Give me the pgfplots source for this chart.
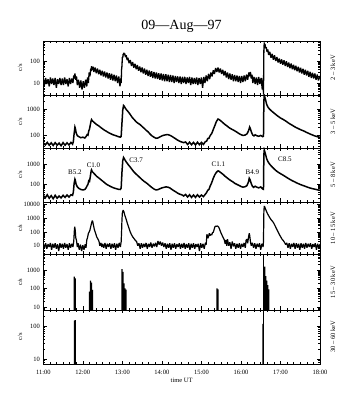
\documentclass[border=0pt]{standalone}
\usepackage{fontspec}
\setmainfont{Liberation Serif}
\usepackage{pgfplots}
\pgfplotsset{compat=1.18}
\pgfplotsset{mypanelstyle/.style={
  scale only axis, width=276.7pt, xmin=11, xmax=18,
  xtick={11,12,13,14,15,16,17,18}, minor x tick num=5, xticklabels={},
  tick align=inside, tick pos=both,
  major tick length=3.5pt, minor tick length=2pt,
  axis line style={line width=0.8pt}, every tick/.style={black,line width=0.55pt},
  tick label style={font=\fontsize{6.5}{7}\selectfont},
  clip mode=individual, anchor=south west,
}}
\newcommand{\cslab}{\node[rotate=90,font=\fontsize{6.5}{7}\selectfont] at (rel axis cs:-0.084,0.5) {c/s};}
\newcommand{\kev}[1]{\node[rotate=90,font=\fontsize{6.5}{7}\selectfont] at (rel axis cs:1.047,0.5) {#1};}
\begin{document}
\begin{tikzpicture}
\useasboundingbox (0,0) rectangle (356pt,395pt);
\node[font=\fontsize{14}{16}\selectfont, anchor=base] at (181.5pt,365pt) {09—Aug—97};
% ---------- panel 1 : 2-3 keV
\begin{axis}[ymode=log, mypanelstyle, at={(43.3pt,300pt)}, height=54pt, ymin=2.85, ymax=811,
  ytick={10,100}, yticklabels={10,100},
  minor ytick={3,4,5,6,7,8,9,20,30,40,50,60,70,80,90,200,300,400,500,600,700,800}]
\addplot[black, line width=1.3pt, line join=bevel] coordinates {
(11.00,16)(11.03,8)(11.06,17)(11.09,9)(11.12,15)(11.15,7)(11.18,18)(11.21,9)(11.24,16)(11.27,8)
(11.30,17)(11.33,6)(11.36,15)(11.39,9)(11.42,17)(11.45,8)(11.48,16)(11.51,8)(11.54,18)(11.57,9)
(11.60,15)(11.63,7)(11.66,17)(11.69,9)(11.72,16)(11.75,10)(11.77,22)(11.79,16)(11.80,27)(11.82,14)
(11.84,20)(11.86,8)(11.89,14)(11.92,6)(11.95,13)(11.98,5)(12.01,12)(12.04,6)(12.07,14)(12.10,7)
(12.12,18)(12.14,10)(12.16,30)(12.18,20)(12.20,45)(12.21,35)(12.22,58)(12.24,38)(12.26,55)(12.28,32)
(12.31,50)(12.34,28)(12.37,45)(12.40,25)(12.43,40)(12.46,22)(12.49,36)(12.52,20)(12.55,33)(12.58,18)
(12.61,30)(12.64,16)(12.67,28)(12.70,14)(12.73,26)(12.76,13)(12.79,24)(12.82,12)(12.85,22)(12.88,10)
(12.91,20)(12.94,7)(12.96,16)(12.97,10)(12.98,40)(12.99,60)(13.00,150)(13.01,140)(13.02,210)(13.03,190)
(13.04,235)(13.05,180)(13.06,220)(13.08,150)(13.10,180)(13.12,110)(13.14,140)(13.17,80)(13.20,110)(13.23,60)
(13.26,90)(13.29,50)(13.32,75)(13.35,42)(13.38,65)(13.41,36)(13.44,56)(13.47,31)(13.50,50)(13.53,27)
(13.56,45)(13.59,24)(13.62,40)(13.65,21)(13.68,37)(13.71,19)(13.74,34)(13.77,17)(13.80,32)(13.83,16)
(13.86,30)(13.89,15)(13.92,28)(13.95,14)(13.98,27)(14.01,13)(14.04,26)(14.07,12)(14.10,25)(14.13,12)
(14.16,24)(14.19,11)(14.22,23)(14.25,11)(14.28,22)(14.31,10)(14.34,21)(14.37,11)(14.40,20)(14.43,10)
(14.46,20)(14.49,9)(14.52,19)(14.55,10)(14.58,19)(14.61,9)(14.64,18)(14.67,10)(14.70,19)(14.73,8)
(14.76,18)(14.79,9)(14.82,17)(14.85,9)(14.88,18)(14.91,8)(14.94,17)(14.97,9)(15.00,18)(15.03,6)
(15.06,19)(15.09,10)(15.12,22)(15.15,12)(15.18,26)(15.21,15)(15.24,30)(15.27,20)(15.30,38)(15.33,26)
(15.36,48)(15.39,32)(15.42,50)(15.45,30)(15.48,45)(15.51,26)(15.54,40)(15.57,22)(15.60,35)(15.63,18)
(15.66,30)(15.69,15)(15.72,27)(15.75,14)(15.78,25)(15.81,12)(15.84,23)(15.87,12)(15.90,22)(15.93,11)
(15.96,21)(15.99,10)(16.02,21)(16.05,11)(16.08,22)(16.11,12)(16.14,24)(16.17,14)(16.20,30)(16.22,20)
(16.24,32)(16.26,16)(16.28,24)(16.30,10)(16.33,19)(16.36,9)(16.39,18)(16.42,8)(16.45,19)(16.48,9)
(16.51,17)(16.54,5)(16.56,16)(16.57,3)(16.58,300)(16.585,450)(16.59,700)(16.60,520)(16.61,580)(16.62,380)
(16.64,430)(16.66,260)(16.68,330)(16.70,190)(16.73,260)(16.76,140)(16.79,210)(16.82,115)(16.85,180)(16.88,100)
(16.91,150)(16.94,85)(16.97,130)(17.00,75)(17.03,118)(17.06,68)(17.09,108)(17.12,60)(17.15,96)(17.18,53)
(17.21,85)(17.24,47)(17.27,76)(17.30,42)(17.33,68)(17.36,38)(17.39,60)(17.42,34)(17.45,54)(17.48,30)
(17.51,49)(17.54,27)(17.57,44)(17.60,24)(17.63,40)(17.66,22)(17.69,36)(17.72,19)(17.75,32)(17.78,17)
(17.81,29)(17.84,16)(17.87,27)(17.90,14)(17.93,24)(17.96,13)(18.00,21)};
\cslab \kev{2 – 3 keV}
\end{axis}
% ---------- panel 2 : 3-5 keV
\begin{axis}[ymode=log, mypanelstyle, at={(43.3pt,247pt)}, height=53pt, ymin=34.6, ymax=3340,
  ytick={100,1000}, yticklabels={100,1000},
  minor ytick={40,50,60,70,80,90,200,300,400,500,600,700,800,900,2000,3000}]
\addplot[black, line width=1.5pt] coordinates {
(11.00,55)(11.05,45)(11.10,56)(11.15,44)(11.20,54)(11.25,43)(11.30,55)(11.35,44)(11.40,53)(11.45,42)
(11.50,55)(11.55,44)(11.60,54)(11.65,45)(11.70,56)(11.74,48)(11.76,60)(11.78,120)(11.80,210)(11.81,190)
(11.83,130)(11.86,100)(11.90,92)(11.95,84)(12.00,88)(12.05,82)(12.08,92)(12.11,110)(12.13,105)(12.15,150)
(12.17,180)(12.19,260)(12.21,360)(12.22,400)(12.24,360)(12.27,330)(12.30,300)(12.35,260)(12.40,235)(12.45,205)
(12.50,180)(12.55,160)(12.60,145)(12.65,130)(12.70,120)(12.75,110)(12.80,104)(12.85,98)(12.90,92)(12.95,88)
(12.97,95)(12.99,300)(13.01,900)(13.03,1350)(13.05,1250)(13.07,1100)(13.10,950)(13.15,780)(13.20,620)(13.25,480)
(13.30,400)(13.35,330)(13.40,290)(13.45,260)(13.50,220)(13.55,190)(13.60,160)(13.65,140)(13.70,115)(13.75,98)
(13.80,88)(13.85,80)(13.90,82)(13.95,90)(14.00,98)(14.05,104)(14.10,108)(14.15,110)(14.20,104)(14.25,95)
(14.30,85)(14.35,76)(14.40,68)(14.45,62)(14.50,58)(14.55,55)(14.60,58)(14.65,47)(14.70,57)(14.75,46)
(14.80,56)(14.85,45)(14.90,57)(14.95,46)(15.00,56)(15.05,47)(15.10,60)(15.13,62)(15.16,78)(15.19,80)
(15.22,100)(15.26,120)(15.30,170)(15.34,240)(15.38,340)(15.42,420)(15.45,400)(15.50,350)(15.55,300)(15.60,260)
(15.65,230)(15.70,200)(15.75,180)(15.80,165)(15.85,150)(15.90,135)(15.95,120)(16.00,110)(16.05,102)(16.10,105)
(16.15,115)(16.19,150)(16.22,210)(16.24,180)(16.27,130)(16.30,105)(16.33,98)(16.36,108)(16.40,100)(16.45,95)
(16.50,102)(16.55,92)(16.57,95)(16.58,2000)(16.59,3200)(16.60,2900)(16.62,2300)(16.65,1500)(16.68,1200)(16.72,1000)
(16.76,880)(16.80,780)(16.85,680)(16.90,590)(16.95,520)(17.00,460)(17.05,420)(17.10,380)(17.15,340)(17.20,300)
(17.25,270)(17.30,245)(17.35,220)(17.40,200)(17.45,185)(17.50,170)(17.55,158)(17.60,148)(17.65,135)(17.70,125)
(17.75,115)(17.80,108)(17.85,100)(17.90,95)(17.95,90)(18.00,88)};
\cslab \kev{3 – 5 keV}
\end{axis}
% ---------- panel 3 : 5-8 keV
\begin{axis}[ymode=log, mypanelstyle, at={(43.3pt,193pt)}, height=54pt, ymin=13, ymax=6530,
  ytick={100,1000}, yticklabels={100,1000},
  minor ytick={20,30,40,50,60,70,80,90,200,300,400,500,600,700,800,900,2000,3000,4000,5000,6000}]
\addplot[black, line width=1.5pt] coordinates {
(11.00,28)(11.05,21)(11.10,30)(11.15,20)(11.20,27)(11.25,19)(11.30,28)(11.35,20)(11.40,26)(11.45,21)
(11.50,28)(11.55,22)(11.60,29)(11.65,23)(11.70,30)(11.74,28)(11.76,40)(11.78,110)(11.80,180)(11.81,160)
(11.83,100)(11.86,75)(11.90,62)(11.95,55)(12.00,52)(12.05,55)(12.08,65)(12.11,85)(12.13,100)(12.15,150)
(12.17,140)(12.19,250)(12.21,450)(12.22,520)(12.24,430)(12.27,370)(12.30,320)(12.35,250)(12.40,210)(12.45,175)
(12.50,145)(12.55,120)(12.60,100)(12.65,88)(12.70,78)(12.75,70)(12.80,64)(12.85,60)(12.90,56)(12.95,55)
(12.97,65)(12.99,400)(13.01,1500)(13.03,2200)(13.05,1900)(13.07,1600)(13.10,1300)(13.15,950)(13.20,720)(13.25,530)
(13.30,400)(13.35,320)(13.40,260)(13.45,210)(13.50,170)(13.55,140)(13.60,120)(13.65,100)(13.70,82)(13.75,68)
(13.80,58)(13.85,52)(13.90,54)(13.95,60)(14.00,66)(14.05,70)(14.10,74)(14.15,72)(14.20,66)(14.25,56)
(14.30,48)(14.35,42)(14.40,36)(14.45,32)(14.50,30)(14.55,26)(14.60,31)(14.65,23)(14.70,30)(14.75,22)
(14.80,29)(14.85,22)(14.90,30)(14.95,23)(15.00,29)(15.05,24)(15.10,32)(15.13,38)(15.16,50)(15.19,55)
(15.22,80)(15.26,120)(15.30,200)(15.34,300)(15.38,400)(15.42,470)(15.45,440)(15.50,370)(15.55,310)(15.60,250)
(15.65,210)(15.70,175)(15.75,150)(15.80,130)(15.85,110)(15.90,98)(15.95,88)(16.00,78)(16.05,72)(16.10,75)
(16.15,85)(16.19,130)(16.21,200)(16.23,170)(16.26,110)(16.29,80)(16.32,70)(16.36,80)(16.40,72)(16.45,66)
(16.50,74)(16.55,58)(16.57,56)(16.58,3000)(16.59,5200)(16.60,4500)(16.62,3300)(16.65,1900)(16.68,1400)(16.72,1050)
(16.76,850)(16.80,700)(16.85,560)(16.90,460)(16.95,390)(17.00,340)(17.05,300)(17.10,260)(17.15,225)(17.20,195)
(17.25,170)(17.30,150)(17.35,135)(17.40,120)(17.45,108)(17.50,98)(17.55,90)(17.60,83)(17.65,76)(17.70,70)
(17.75,65)(17.80,61)(17.85,58)(17.90,55)(17.95,52)(18.00,50)};
\node[font=\fontsize{7}{8}\selectfont] at (axis cs:11.80,420) {B5.2};
\node[font=\fontsize{7}{8}\selectfont] at (axis cs:12.27,850) {C1.0};
\node[font=\fontsize{7}{8}\selectfont] at (axis cs:13.35,1550) {C3.7};
\node[font=\fontsize{7}{8}\selectfont] at (axis cs:15.43,1000) {C1.1};
\node[font=\fontsize{7}{8}\selectfont] at (axis cs:16.29,412) {B4.9};
\node[font=\fontsize{7}{8}\selectfont] at (axis cs:17.11,1780) {C8.5};
\cslab \kev{5 – 8 keV}
\end{axis}
% ---------- panel 4 : 10-15 keV
\begin{axis}[ymode=log, mypanelstyle, at={(43.3pt,140.5pt)}, height=52.5pt, ymin=2.27, ymax=15800,
  ytick={10,100,1000,10000}, yticklabels={10,100,1000,10000},
  minor ytick={3,4,5,6,7,8,9,20,30,40,50,60,70,80,90,200,300,400,500,600,700,800,900,2000,3000,4000,5000,6000,7000,8000,9000}]
\addplot[black, line width=1.2pt, line join=bevel] coordinates {
(11.00,14)(11.03,7)(11.06,15)(11.09,6)(11.12,13)(11.15,8)(11.18,16)(11.21,5)(11.24,14)(11.27,7)
(11.30,15)(11.33,6)(11.36,13)(11.39,4)(11.42,15)(11.45,7)(11.48,14)(11.51,6)(11.54,16)(11.57,7)
(11.60,13)(11.63,5)(11.66,15)(11.69,7)(11.72,14)(11.75,8)(11.77,20)(11.785,120)(11.795,250)(11.81,120)
(11.82,40)(11.84,24)(11.86,8)(11.88,15)(11.91,5)(11.94,12)(11.97,4)(12.00,11)(12.03,5)(12.06,13)
(12.08,7)(12.10,26)(12.12,40)(12.14,80)(12.16,100)(12.18,140)(12.20,250)(12.22,450)(12.24,680)(12.25,600)
(12.27,300)(12.29,160)(12.31,105)(12.33,70)(12.35,45)(12.37,35)(12.39,28)(12.41,20)(12.43,10)(12.46,16)
(12.48,8)(12.50,14)(12.53,7)(12.56,16)(12.59,6)(12.62,14)(12.65,8)(12.68,15)(12.71,6)(12.74,14)
(12.77,7)(12.80,15)(12.83,5)(12.86,14)(12.89,7)(12.92,16)(12.95,8)(12.97,20)(12.98,100)(12.99,800)
(13.00,2500)(13.02,4000)(13.04,3000)(13.06,1800)(13.08,1200)(13.10,800)(13.12,500)(13.14,330)(13.16,220)(13.18,150)
(13.20,100)(13.23,65)(13.26,45)(13.30,32)(13.33,24)(13.36,20)(13.39,10)(13.42,15)(13.45,6)(13.48,15)
(13.51,7)(13.54,14)(13.57,8)(13.60,16)(13.63,6)(13.66,14)(13.69,8)(13.72,17)(13.75,7)(13.78,14)
(13.81,9)(13.84,16)(13.87,8)(13.90,22)(13.93,12)(13.96,20)(13.99,10)(14.02,17)(14.05,8)(14.08,15)
(14.11,6)(14.14,14)(14.17,7)(14.20,15)(14.23,5)(14.26,14)(14.29,7)(14.32,15)(14.35,6)(14.38,13)
(14.41,8)(14.44,15)(14.47,6)(14.50,14)(14.53,7)(14.56,16)(14.59,6)(14.62,13)(14.65,7)(14.68,15)
(14.71,5)(14.74,14)(14.77,7)(14.80,15)(14.83,6)(14.86,13)(14.89,8)(14.92,14)(14.95,4)(14.98,15)
(15.01,7)(15.04,14)(15.07,6)(15.10,16)(15.12,12)(15.14,70)(15.16,35)(15.18,45)(15.20,80)(15.22,55)
(15.24,70)(15.26,60)(15.28,90)(15.30,95)(15.32,150)(15.34,240)(15.36,270)(15.38,260)(15.40,280)(15.42,260)
(15.44,220)(15.46,160)(15.48,110)(15.50,80)(15.52,60)(15.54,45)(15.56,35)(15.58,26)(15.60,14)(15.62,26)
(15.64,10)(15.66,30)(15.69,10)(15.72,18)(15.75,6)(15.78,20)(15.81,9)(15.84,15)(15.87,6)(15.90,14)
(15.93,7)(15.96,15)(15.99,6)(16.02,14)(16.05,8)(16.08,16)(16.11,7)(16.13,25)(16.15,30)(16.17,15)
(16.19,40)(16.21,80)(16.22,60)(16.24,20)(16.26,10)(16.29,16)(16.32,7)(16.35,15)(16.38,6)(16.41,14)
(16.44,8)(16.47,15)(16.50,5)(16.53,14)(16.56,8)(16.57,20)(16.58,3000)(16.59,8000)(16.60,7000)(16.62,5000)
(16.65,3000)(16.68,2000)(16.71,1400)(16.74,1000)(16.77,750)(16.80,600)(16.83,450)(16.86,300)(16.89,200)(16.92,130)
(16.95,90)(16.98,60)(17.01,42)(17.04,30)(17.07,24)(17.10,18)(17.13,12)(17.16,16)(17.19,7)(17.22,15)
(17.25,6)(17.28,14)(17.31,8)(17.34,16)(17.37,6)(17.40,15)(17.43,7)(17.46,14)(17.49,5)(17.52,15)
(17.55,7)(17.58,14)(17.61,6)(17.64,16)(17.67,7)(17.70,14)(17.73,8)(17.76,15)(17.79,6)(17.82,13)
(17.85,8)(17.88,15)(17.91,5)(17.94,14)(17.97,7)(18.00,13)};
\cslab \kev{10 – 15 keV}
\end{axis}
% ---------- panel 5 : 15-30 keV
\begin{axis}[ymode=log, mypanelstyle, at={(43.3pt,85pt)}, height=55.5pt, ymin=7.2, ymax=6780,
  ytick={10,100,1000}, yticklabels={10,100,1000},
  minor ytick={8,9,20,30,40,50,60,70,80,90,200,300,400,500,600,700,800,900,2000,3000,4000,5000,6000}]
\addplot[ybar, bar width=1.2pt, fill=black, draw=none] coordinates {
(11.785,440)(11.81,360)
(12.17,69)(12.195,266)(12.22,210)(12.245,85)
(12.99,1120)(13.015,800)(13.04,193)(13.065,104)(13.09,90)
(15.395,104)(15.42,92)
(16.58,1500)(16.605,1500)(16.63,475)(16.655,266)(16.68,157)(16.705,92)};
\addplot[ybar, bar width=0.6pt, fill=black, draw=none] coordinates {(16.565,6000)};
\cslab \kev{15 – 30 keV}
\end{axis}
% ---------- panel 6 : 30-60 keV
\begin{axis}[ymode=log, mypanelstyle, at={(43.3pt,31pt)}, height=54pt, ymin=7.2, ymax=302,
  ytick={10,100}, yticklabels={10,100},
  minor ytick={8,9,20,30,40,50,60,70,80,90,200,300},
  xticklabels={11:00,12:00,13:00,14:00,15:00,16:00,17:00,18:00},
  xticklabel style={yshift=-2.5pt}]
\addplot[ybar, bar width=1.2pt, fill=black, draw=none] coordinates {
(11.79,145)(11.81,150)(16.555,115)};
\addplot[ybar, bar width=0.6pt, fill=black, draw=none] coordinates {(16.575,1000)};
\node[font=\fontsize{6.5}{7}\selectfont] at (rel axis cs:0.5,-0.296) {time UT};
\cslab \kev{30 – 60 keV}
\end{axis}
\end{tikzpicture}
\end{document}
